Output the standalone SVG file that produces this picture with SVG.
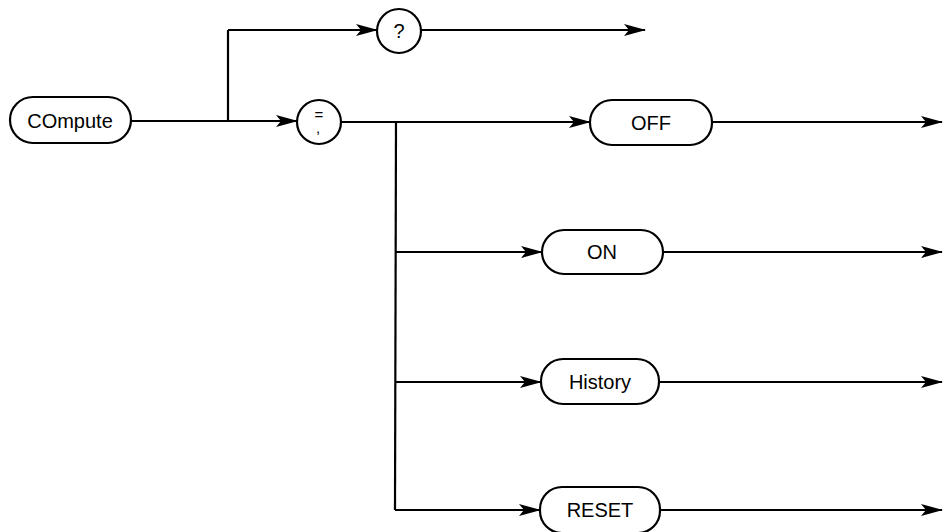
<svg xmlns="http://www.w3.org/2000/svg" width="945" height="532" viewBox="0 0 945 532">
<defs>
<marker id="arr" markerWidth="22" markerHeight="12" refX="21" refY="6" orient="auto" markerUnits="userSpaceOnUse">
<path d="M0,0 L22,6 L0,12 L5,6 Z" fill="#000"/>
</marker>
<style>
.box{fill:#fff;stroke:#000;stroke-width:2.2}
.t{font-family:"Liberation Sans",Arial,sans-serif;font-size:20px;text-anchor:middle;fill:#000}
.c{fill:none;stroke:#000;stroke-width:2.2}
.a{fill:none;stroke:#000;stroke-width:2.2;marker-end:url(#arr)}
</style>
</defs>
<rect width="945" height="532" fill="#fff"/>
<g id="connectors">
<path class="a" d="M131,121 L297,121"/>
<path class="c" d="M228,121 L228,30"/>
<path class="a" d="M228,30 L377,30"/>
<path class="a" d="M421,30 L645,30"/>
<path class="a" d="M341,122 L590,122"/>
<path class="c" d="M396,122 L395,510"/>
<path class="a" d="M395,252 L542,252"/>
<path class="a" d="M395,382 L541,382"/>
<path class="a" d="M395,510 L540,510"/>
<path class="a" d="M712,122 L942,122"/>
<path class="a" d="M663,252 L942,252"/>
<path class="a" d="M659,382 L942,382"/>
<path class="a" d="M659,510 L942,510"/>
</g>
<g id="compute">
<rect class="box" x="10" y="97" width="121" height="46" rx="23"/>
<text class="t" x="70" y="128">COmpute</text>
</g>
<g id="query">
<circle class="box" cx="399" cy="31" r="22"/>
<text class="t" x="399" y="38">?</text>
</g>
<g id="eq">
<circle class="box" cx="319" cy="122" r="22"/>
<text class="t" style="font-size:15px"><tspan x="319" y="120">=</tspan><tspan x="318" y="133">,</tspan></text>
</g>
<g id="off">
<rect class="box" x="590" y="100" width="122" height="45" rx="22"/>
<text class="t" x="651" y="130">OFF</text>
</g>
<g id="on">
<rect class="box" x="542" y="230" width="121" height="44" rx="22"/>
<text class="t" x="602" y="259">ON</text>
</g>
<g id="history">
<rect class="box" x="541" y="359" width="118" height="45" rx="22"/>
<text class="t" x="600" y="389">History</text>
</g>
<g id="reset">
<rect class="box" x="540" y="487" width="120" height="46" rx="22"/>
<text class="t" x="600" y="517">RESET</text>
</g>
</svg>
